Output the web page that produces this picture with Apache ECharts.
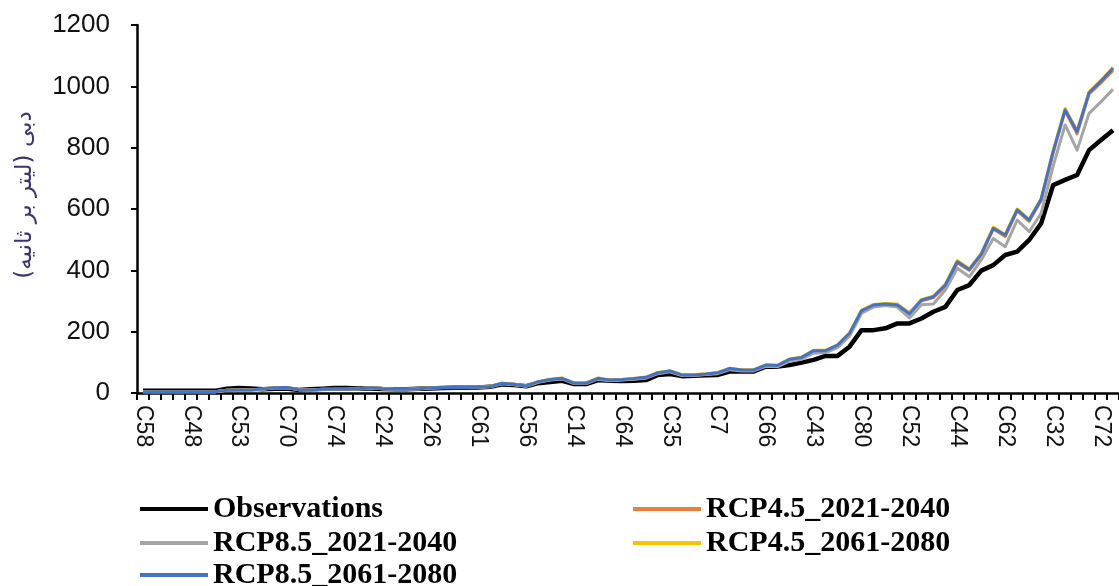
<!DOCTYPE html>
<html>
<head>
<meta charset="utf-8">
<script src="https://cdn.jsdelivr.net/npm/echarts@6/dist/echarts.min.js"></script>
<style>
  html, body { margin: 0; padding: 0; background: #fff; }
  #chart { width: 1119px; height: 586px; }
</style>
</head>
<body>
<div id="chart"></div>
<script>
// Station codes shown under the axis (one every fourth station)
const tickLabels = ['C58','C48','C53','C70','C74','C24','C26','C61','C56','C14','C64',
                    'C35','C7','C66','C43','C80','C52','C44','C62','C32','C72'];
const stationCount = 82;
const labelStep = 4;

// Discharge (l/s) per station, sorted by observed flow
const observations = [7,7,7,7,7,7,7,14,16,15, 12,14,15,10,12,14,16,16,15,15,
  13,12,12,14,15,16,17,17,18,20, 28,26,22,32,36,40,29,29,42,40,
  39,40,42,59,62,55,56,58,59,70, 70,70,86,86,91,99,108,121,121,151,
  205,205,211,227,227,243,265,281,336,352, 399,417,450,461,499,553,678,695,711,792,
  825,857];
const rcp45_2021 = [4,4,4,4,4,4,4,9,10,10, 13,17,17,11,10,12,12,12,14,17,
  14,12,12,14,16,18,18,18,19,21, 31,28,23,36,43,47,32,32,47,41,
  43,46,50,65,71,58,58,61,65,79, 74,74,90,89,109,115,136,137,154,192,
  265,286,290,288,262,300,311,348,424,400, 450,535,510,594,560,628,782,920,845,975,
  1012,1052];
const rcp85_2021 = [4,4,4,4,4,4,4,9,10,10, 12,16,17,11,10,11,12,12,13,16,
  14,12,12,13,16,17,17,17,18,20, 30,27,22,35,42,46,31,31,45,40,
  42,45,49,63,69,57,57,60,63,76, 72,72,87,86,104,110,130,132,148,185,
  260,280,285,280,245,288,290,336,407,379, 434,504,477,564,526,586,740,874,792,912,
  950,990];
const rcp45_2061 = [4,4,4,4,4,4,4,9,10,11, 13,17,18,11,10,12,12,12,14,17,
  14,12,12,14,17,18,18,18,19,22, 32,28,23,37,45,49,32,33,49,42,
  44,47,52,67,73,60,60,63,67,81, 76,76,92,91,111,117,139,139,157,196,
  270,289,292,290,260,305,316,355,432,405, 456,541,517,600,566,635,790,928,855,982,
  1020,1062];
const rcp85_2061 = [4,4,4,4,4,4,4,9,10,10, 13,17,18,11,10,12,12,12,14,17,
  14,12,12,14,17,18,18,18,19,21, 32,28,23,37,44,48,32,32,48,42,
  44,47,51,66,72,59,59,62,66,80, 75,75,91,90,110,116,138,138,156,195,
  268,287,290,287,258,303,314,352,428,403, 453,537,515,597,564,632,787,923,852,979,
  1017,1059];

const yTicks = { min: 0, max: 1200, step: 200 };
const yTitle = 'دبی (لیتر بر ثانیه)';

// Category list: named stations at every fourth slot, unnamed in between
const categories = [];
for (let i = 0; i < stationCount; i++) {
  categories.push(i % labelStep === 0 ? (tickLabels[i / labelStep] || '') : '');
}

const seriesDefs = [
  { name: 'Observations',      data: observations, color: '#000000', width: 4.5 },
  { name: 'RCP4.5_2021-2040',  data: rcp45_2021,   color: '#ED7D31', width: 3 },
  { name: 'RCP8.5_2021-2040',  data: rcp85_2021,   color: '#A5A5A5', width: 3 },
  { name: 'RCP4.5_2061-2080',  data: rcp45_2061,   color: '#FFC000', width: 3 },
  { name: 'RCP8.5_2061-2080',  data: rcp85_2061,   color: '#4472C4', width: 3 }
];

// Legend grid: two columns, three rows (filled row by row)
const legendCols = [140, 633];
const legendRows = [494, 528, 560];
const legendSlots = [[0, 0], [1, 0], [0, 1], [1, 1], [0, 2]];

const legendText = {
  fontFamily: 'Liberation Serif, Times New Roman, serif',
  fontWeight: 'bold', fontSize: 30, lineHeight: 26, color: '#000'
};
const legends = seriesDefs.map((d, k) => ({
  orient: 'horizontal', padding: 0,
  left: legendCols[legendSlots[k][0]], top: legendRows[legendSlots[k][1]],
  itemWidth: 68, itemHeight: 4, itemGap: 0,
  icon: 'rect',
  textStyle: legendText, selectedMode: false,
  data: [{ name: d.name, itemStyle: { color: d.color } }]
}));

const chart = echarts.init(document.getElementById('chart'), null, { renderer: 'canvas' });
chart.setOption({
  animation: false,
  backgroundColor: '#ffffff',
  grid: { left: 137, top: 25, width: 984, height: 368, containLabel: false },
  legend: legends,
  xAxis: {
    type: 'category',
    data: categories,
    boundaryGap: true,
    axisLine: { lineStyle: { color: '#000', width: 2.5 } },
    axisTick: { show: true, interval: 0, length: 7, lineStyle: { color: '#000', width: 2 } },
    axisLabel: {
      interval: labelStep - 1, rotate: -90, margin: 12,
      fontFamily: 'Liberation Sans, Arial, sans-serif', fontSize: 23, color: '#111'
    },
    splitLine: { show: false }
  },
  yAxis: {
    type: 'value',
    min: yTicks.min, max: yTicks.max, interval: yTicks.step,
    axisLine: { show: true, lineStyle: { color: '#000', width: 2.5 } },
    axisTick: { show: true, length: 6, lineStyle: { color: '#000', width: 2 } },
    axisLabel: {
      margin: 27, fontFamily: 'Liberation Sans, Arial, sans-serif', fontSize: 26, color: '#111',
      formatter: v => String(v)
    },
    splitLine: { show: false }
  },
  graphic: [{
    type: 'text',
    x: 25, y: 195,
    rotation: Math.PI / 2,
    style: {
      text: yTitle,
      fontFamily: 'DejaVu Sans, Noto Sans, sans-serif',
      fontSize: 23,
      fill: '#3B3470',
      align: 'center', verticalAlign: 'middle'
    }
  }],
  series: seriesDefs.map(d => ({
    name: d.name,
    type: 'line',
    data: d.data,
    symbol: 'none',
    smooth: false,
    itemStyle: { color: d.color },
    lineStyle: { color: d.color, width: d.width, join: 'round' }
  }))
});
</script>
</body>
</html>
